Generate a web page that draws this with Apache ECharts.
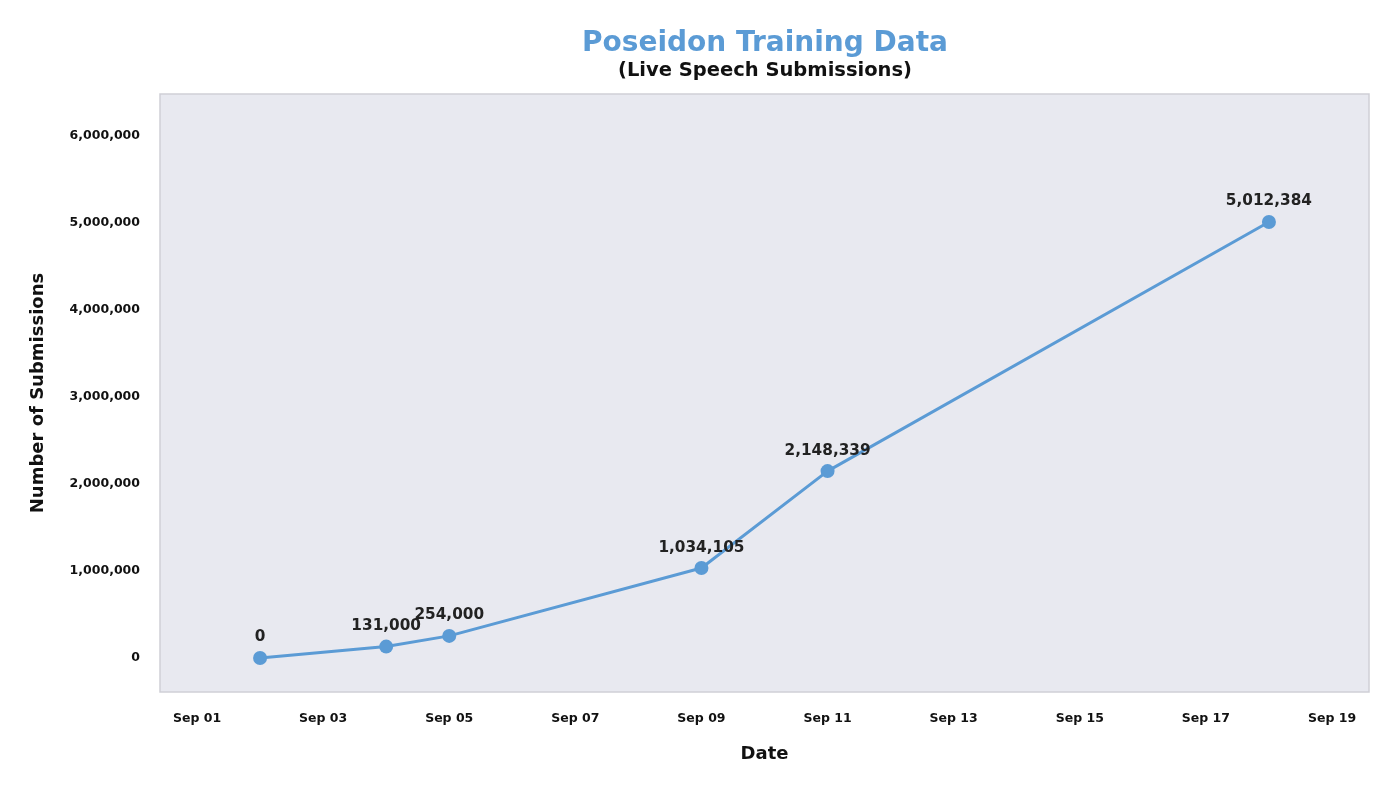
<!DOCTYPE html>
<html>
<head>
<meta charset="utf-8">
<script src="https://cdn.jsdelivr.net/npm/echarts@6/dist/echarts.min.js"></script>
<style>
html, body { margin: 0; padding: 0; background: #fff; }
#chart { width: 1400px; height: 794px; }
</style>
</head>
<body>
<div id="chart"></div>
<script>
// data
var dates = ['2023-09-02', '2023-09-04', '2023-09-05', '2023-09-09', '2023-09-11', '2023-09-18'];
var submissions = [0, 131000, 254000, 1034105, 2148339, 5012384];
var xTickDays = [1, 3, 5, 7, 9, 11, 13, 15, 17, 19];
var yTicks = [0, 1000000, 2000000, 3000000, 4000000, 5000000, 6000000];

var font = '"DejaVu Sans", sans-serif';
var blue = '#5b9bd5';

function dayOf(s) {
	return parseInt(s.split('-')[2], 10);
}
function fmt(v) {
	return Math.round(v).toString().replace(/\B(?=(\d{3})+(?!\d))/g, ',');
}
function pad(d) {
	return d < 10 ? '0' + d : '' + d;
}

var seriesData = [];
dates.forEach(function(d, i) {
	seriesData.push([dayOf(d), submissions[i]]);
});

var myChart = echarts.init(document.getElementById('chart'));
var option = {
	animation: false,
	title: [{
		text: 'Poseidon Training Data',
		left: 760, top: 25, textAlign: 'center',
		textStyle: { fontFamily: font, fontSize: 28, fontWeight: 'bold', color: blue }
	}, {
		text: '(Live Speech Submissions)',
		left: 760, top: 56, textAlign: 'center',
		textStyle: { fontFamily: font, fontSize: 19.5, fontWeight: 'bold', color: '#111' }
	}],
	grid: {
		left: 160, right: 31, top: 94, bottom: 102,
		show: true, backgroundColor: '#e8e9f0', borderColor: '#cfcfd6', borderWidth: 1.5
	},
	xAxis: {
		type: 'value',
		min: 0.413, max: 19.587,
		name: 'Date', nameLocation: 'middle', nameGap: 53,
		nameTextStyle: { fontFamily: font, fontSize: 18, fontWeight: 'bold', color: '#111' },
		axisLine: { show: false }, axisTick: { show: false }, splitLine: { show: false },
		axisLabel: {
			customValues: xTickDays, margin: 20,
			fontFamily: font, fontSize: 12.5, fontWeight: 'bold', color: '#111',
			formatter: function(v) { return 'Sep ' + pad(Math.round(v)); }
		}
	},
	yAxis: {
		type: 'value',
		min: -391000, max: 6483000,
		name: 'Number of Submissions', nameLocation: 'middle', nameGap: 113,
		nameTextStyle: { fontFamily: font, fontSize: 18, fontWeight: 'bold', color: '#111' },
		axisLine: { show: false }, axisTick: { show: false }, splitLine: { show: false },
		axisLabel: {
			customValues: yTicks, margin: 20,
			fontFamily: font, fontSize: 12.5, fontWeight: 'bold', color: '#111',
			verticalAlign: 'middle', padding: [4, 0, 0, 0],
			formatter: function(v) { return fmt(v); }
		}
	},
	series: [{
		type: 'line',
		data: seriesData,
		symbol: 'circle', symbolSize: 14,
		lineStyle: { color: blue, width: 3 },
		itemStyle: { color: blue },
		label: {
			show: true, position: 'top', distance: 6,
			fontFamily: font, fontSize: 15.3, fontWeight: 'bold', color: '#222',
			formatter: function(p) { return fmt(p.value[1]); }
		}
	}]
};
myChart.setOption(option);
</script>
</body>
</html>
